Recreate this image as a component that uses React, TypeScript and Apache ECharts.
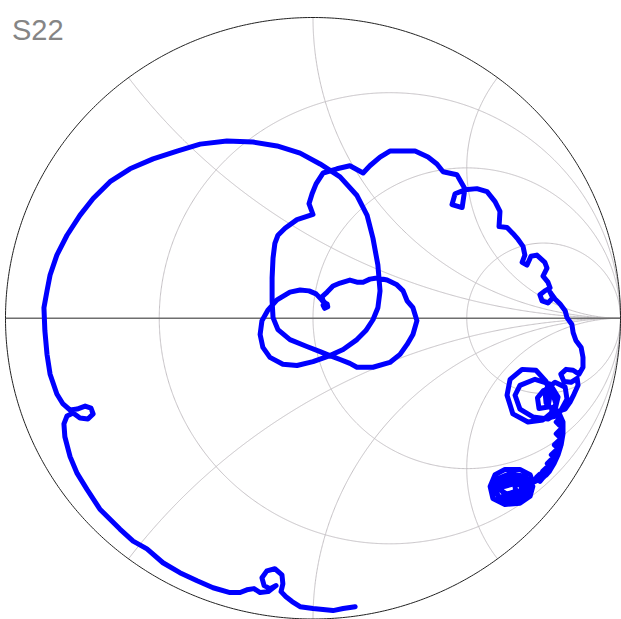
import React, { useEffect, useRef } from "react";
import * as echarts from "echarts";

// Smith chart grid values
const resistanceCircles = [1 / 3, 1, 3];
const reactanceArcs = [0.5, 1, 2, -0.5, -1, -2];

const tailLoop = [
  [0.137, -0.959], [0.098, -0.965], [0.065, -0.972], [0, -0.965], [-0.042, -0.959],
  [-0.068, -0.942], [-0.088, -0.926], [-0.104, -0.909], [-0.098, -0.883], [-0.101, -0.853],
  [-0.124, -0.833], [-0.15, -0.84], [-0.166, -0.863], [-0.159, -0.889], [-0.14, -0.899],
  [-0.12, -0.889], [-0.146, -0.909], [-0.172, -0.912], [-0.192, -0.899], [-0.215, -0.903],
  [-0.237, -0.912], [-0.27, -0.912], [-0.325, -0.896], [-0.377, -0.873], [-0.433, -0.846],
  [-0.488, -0.813], [-0.54, -0.767], [-0.585, -0.741], [-0.628, -0.701], [-0.693, -0.635],
  [-0.735, -0.569], [-0.767, -0.516], [-0.79, -0.46], [-0.807, -0.394], [-0.81, -0.351],
  [-0.8, -0.325], [-0.78, -0.315], [-0.758, -0.332], [-0.732, -0.335], [-0.715, -0.318],
  [-0.722, -0.299], [-0.741, -0.292], [-0.767, -0.302], [-0.79, -0.305], [-0.813, -0.285],
  [-0.833, -0.252],
];
const outerArc = [
  [-0.855, -0.186], [-0.865, -0.12], [-0.872, -0.041], [-0.875, 0.035], [-0.865, 0.091],
  [-0.855, 0.144], [-0.833, 0.21], [-0.8, 0.276], [-0.758, 0.342], [-0.715, 0.398],
  [-0.66, 0.454], [-0.595, 0.497], [-0.52, 0.53], [-0.442, 0.556], [-0.367, 0.579],
  [-0.28, 0.589], [-0.195, 0.586], [-0.117, 0.573], [-0.042, 0.549], [0.023, 0.513],
  [0.088, 0.47], [0.143, 0.408], [0.176, 0.342], [0.195, 0.266], [0.211, 0.177],
  [0.218, 0.091], [0.211, 0.035], [0.195, -0.005], [0.172, -0.041], [0.143, -0.071],
  [0.098, -0.104], [0.055, -0.124],
];
const centreLobes = [
  [0, -0.144], [-0.052, -0.157], [-0.098, -0.153], [-0.14, -0.13], [-0.163, -0.097],
  [-0.172, -0.054], [-0.166, -0.008], [-0.146, 0.028], [-0.117, 0.061], [-0.075, 0.087],
  [-0.042, 0.094], [-0.013, 0.091], [0.01, 0.081], [0.026, 0.064], [0.036, 0.051],
  [0.046, 0.048], [0.048, 0.038], [0.038, 0.033], [0.033, 0.043], [0.044, 0.046],
  [0.033, 0.058], [0.029, 0.071], [0.046, 0.087], [0.065, 0.107],
  [0.088, 0.117], [0.12, 0.127], [0.143, 0.12], [0.163, 0.12], [0.185, 0.13],
  [0.208, 0.134], [0.241, 0.127], [0.273, 0.111], [0.293, 0.091], [0.306, 0.058],
  [0.325, 0.035], [0.338, -0.008], [0.325, -0.054], [0.306, -0.087], [0.283, -0.12],
  [0.25, -0.147], [0.195, -0.163], [0.143, -0.163], [0.12, -0.15], [0.088, -0.137],
  [0.055, -0.124], [0.023, -0.111], [-0.02, -0.094], [-0.075, -0.071], [-0.114, -0.038],
  [-0.13, 0.002], [-0.133, 0.058],
];
const upperPath = [
  [-0.133, 0.134], [-0.13, 0.2], [-0.124, 0.249], [-0.114, 0.276], [-0.091, 0.299],
  [-0.052, 0.328], [0, 0.345], [-0.013, 0.381], [-0.003, 0.414], [0.01, 0.447],
  [0.033, 0.483], [0.078, 0.497], [0.12, 0.507], [0.163, 0.483], [0.185, 0.507],
  [0.218, 0.536], [0.25, 0.556], [0.332, 0.556], [0.374, 0.536], [0.403, 0.513],
  [0.423, 0.487], [0.468, 0.477], [0.494, 0.431], [0.485, 0.368], [0.452, 0.378],
  [0.462, 0.414], [0.494, 0.427], [0.533, 0.431], [0.566, 0.421], [0.592, 0.388],
  [0.608, 0.355], [0.605, 0.305], [0.631, 0.302], [0.65, 0.282], [0.667, 0.262],
  [0.683, 0.239], [0.689, 0.21], [0.68, 0.186], [0.696, 0.177], [0.709, 0.206],
  [0.728, 0.21], [0.754, 0.186], [0.761, 0.167], [0.748, 0.14], [0.764, 0.12],
  [0.771, 0.101], [0.754, 0.091], [0.738, 0.078], [0.745, 0.058], [0.764, 0.051],
  [0.78, 0.068], [0.771, 0.087], [0.787, 0.064], [0.803, 0.048], [0.82, 0.025],
  [0.826, 0.002],
];
const rightSide = [
  [0.842, -0.021], [0.846, -0.048], [0.855, -0.074], [0.872, -0.097], [0.878, -0.13],
  [0.878, -0.163], [0.865, -0.186], [0.846, -0.173], [0.823, -0.17], [0.806, -0.186],
  [0.816, -0.21], [0.839, -0.213], [0.859, -0.2], [0.862, -0.223], [0.849, -0.252],
  [0.836, -0.279], [0.82, -0.302],
];
const clusterLoops = [
  [0.787, -0.312], [0.758, -0.282], [0.754, -0.239], [0.787, -0.213], [0.82, -0.229],
  [0.826, -0.269], [0.803, -0.312], [0.764, -0.335], [0.715, -0.328], [0.673, -0.302],
  [0.657, -0.256], [0.673, -0.223], [0.722, -0.203], [0.771, -0.219], [0.797, -0.262],
  [0.787, -0.305], [0.748, -0.338], [0.699, -0.345], [0.65, -0.318], [0.631, -0.256],
  [0.641, -0.203], [0.68, -0.17], [0.725, -0.173], [0.758, -0.21], [0.771, -0.256],
  [0.764, -0.295], [0.735, -0.3], [0.73, -0.265], [0.75, -0.24], [0.78, -0.25],
  [0.79, -0.285], [0.776, -0.31], [0.78, -0.328], [0.803, -0.322],
];
const beadChain = [
  [0.813, -0.345], [0.803, -0.357], [0.791, -0.345], [0.803, -0.333], [0.813, -0.345],
  [0.813, -0.384], [0.803, -0.396], [0.791, -0.384], [0.803, -0.372], [0.813, -0.384],
  [0.807, -0.421], [0.797, -0.433], [0.785, -0.421], [0.797, -0.409], [0.807, -0.421],
  [0.797, -0.454], [0.787, -0.466], [0.775, -0.454], [0.787, -0.442], [0.797, -0.454],
  [0.784, -0.483], [0.774, -0.495], [0.762, -0.483], [0.774, -0.471], [0.784, -0.483],
  [0.768, -0.51], [0.758, -0.522], [0.746, -0.51], [0.758, -0.498], [0.768, -0.51],
  [0.748, -0.53], [0.738, -0.542], [0.726, -0.53], [0.738, -0.518], [0.748, -0.53],
  [0.715, -0.546],
];
const endBlob = [
  [0.706, -0.52], [0.673, -0.503], [0.624, -0.503], [0.592, -0.52], [0.576, -0.559],
  [0.585, -0.599], [0.624, -0.619], [0.673, -0.615], [0.706, -0.592], [0.715, -0.559],
  [0.689, -0.526], [0.641, -0.516], [0.602, -0.533], [0.589, -0.566], [0.608, -0.599],
  [0.647, -0.609], [0.689, -0.592], [0.699, -0.559], [0.673, -0.533], [0.634, -0.533],
  [0.608, -0.559], [0.624, -0.592], [0.667, -0.592], [0.68, -0.559], [0.65, -0.543],
  [0.6, -0.54], [0.59, -0.58], [0.62, -0.605], [0.66, -0.6], [0.69, -0.575],
  [0.685, -0.545], [0.65, -0.525], [0.615, -0.535], [0.6, -0.565], [0.63, -0.585],
  [0.66, -0.575], [0.655, -0.55], [0.624, -0.559],
];

const s22 = [
  ...tailLoop, ...outerArc, ...centreLobes, ...upperPath,
  ...rightSide, ...clusterLoops, ...beadChain, ...endBlob,
];

function gamma(r: number, x: number): number[] {
  const den = (r + 1) * (r + 1) + x * x;
  return [(r * r - 1 + x * x) / den, (2 * x) / den];
}

function resistanceCurve(r: number): number[][] {
  const pts: number[][] = [[1, 0]];
  for (let i = -900; i <= 900; i++) {
    const t = (i / 900) * (Math.PI / 2) * 0.9995;
    pts.push(gamma(r, Math.tan(t)));
  }
  pts.push([1, 0]);
  return pts;
}

function reactanceCurve(x: number): number[][] {
  const pts: number[][] = [];
  for (let i = 0; i <= 600; i++) {
    const t = (i / 600) * (Math.PI / 2) * 0.9995;
    pts.push(gamma(Math.tan(t), x));
  }
  pts.push([1, 0]);
  return pts;
}

function unitCircle(): number[][] {
  const pts: number[][] = [];
  for (let i = 0; i <= 720; i++) {
    const a = (i / 720) * Math.PI * 2;
    pts.push([Math.cos(a), Math.sin(a)]);
  }
  return pts;
}

const gridLine = (data: number[][], color: string, width: number) => ({
  type: "line",
  data,
  showSymbol: false,
  symbol: "none",
  silent: true,
  clip: false,
  lineStyle: { color, width },
  z: 1,
});

export default function App() {
  const ref = useRef<HTMLDivElement>(null);
  useEffect(() => {
    if (!ref.current) return;
    const chart = echarts.init(ref.current, undefined, { renderer: "svg" });
    const series: any[] = [];
    resistanceCircles.forEach((r) => series.push(gridLine(resistanceCurve(r), "#c6c2c6", 1)));
    reactanceArcs.forEach((x) => series.push(gridLine(reactanceCurve(x), "#c6c2c6", 1)));
    series.push(gridLine([[-1, 0], [1, 0]], "#6e6e6e", 1.5));
    series.push(gridLine(unitCircle(), "#222222", 1));
    series.push({
      type: "line",
      name: "S22",
      data: s22,
      showSymbol: false,
      symbol: "none",
      clip: false,
      lineStyle: { color: "#0000ff", width: 5, join: "round", cap: "round" },
      z: 10,
    });
    chart.setOption({
      animation: false,
      backgroundColor: "#ffffff",
      title: {
        text: "S22",
        left: 7,
        top: 10,
        textStyle: {
          fontSize: 29,
          fontWeight: "normal",
          color: "#858585",
          fontFamily: "Liberation Sans, Arial, sans-serif",
        },
      },
      grid: { left: 5.5, top: 17.5, width: 615, height: 606 },
      xAxis: { type: "value", min: -1, max: 1, show: false },
      yAxis: { type: "value", min: -1, max: 1, show: false },
      series,
    });
    return () => chart.dispose();
  }, []);
  return (
    <div
      ref={ref}
      style={{ position: "fixed", left: 0, top: 0, width: 621, height: 619 }}
    />
  );
}
